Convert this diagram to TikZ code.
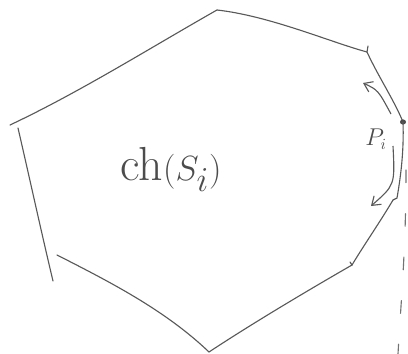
\documentclass[tikz,border=0pt]{standalone}
\usepackage{tikz}
\usetikzlibrary{arrows.meta}
\tikzset{
  hulledge/.style={draw=black!65, line width=0.8pt, line cap=round},
  hullgap/.style={draw=black!55, line width=0.8pt, line cap=round, dash pattern=on 9pt off 22pt},
  hullarrow/.style={{Straight Barb[length=2mm,width=2.8mm]}-, draw=black!65, line width=0.8pt},
  hulltext/.style={text=black!70, inner sep=0pt}
}
\begin{document}
\begin{tikzpicture}[x=0.025cm, y=-0.025cm]
  \useasboundingbox (0,0) rectangle (408,354);
  \coordinate (v1) at (10,125);
  \coordinate (v2) at (217,10);
  \coordinate (v3) at (367,52);
  \coordinate (v4) at (403,122);
  \coordinate (v5) at (397,198);
  \coordinate (v6) at (393,200);
  \coordinate (v7) at (352,265);
  \coordinate (v8) at (209,352);
  \coordinate (w1) at (57,255);
  \coordinate (u1) at (18,128);
  \coordinate (u2) at (53,281);

  \draw[hulledge] (v1) .. controls (80,92) and (150,48) .. (v2);
  \draw[hulledge] (v2) .. controls (270,16) and (330,42) .. (v3);
  \draw[hulledge] (v3) -- (368,46);
  \draw[hulledge] (v3) .. controls (378,76) and (394,100) .. (v4);
  \fill[black!70] (v4) ellipse (3 and 2.6);
  \draw[hulledge] (v4) .. controls (404,150) and (401,175) .. (v5) -- (v6);
  \draw[hulledge] (v6) .. controls (380,222) and (364,245) .. (v7) -- (350,262);
  \draw[hulledge] (v7) .. controls (300,295) and (250,325) .. (v8);
  \draw[hulledge] (w1) .. controls (110,282) and (165,310) .. (v8);
  \draw[hulledge] (u1) .. controls (30,180) and (42,235) .. (u2);
  \draw[hullgap] (406,170) .. controls (406,250) and (401,300) .. (398,354);

  \coordinate (a1) at (363,83);
  \coordinate (a2) at (391,114);
  \coordinate (a3) at (393,146);
  \coordinate (a4) at (371,206);
  \draw[hullarrow] (a1) .. controls (378,90) .. (a2);
  \draw[hullarrow] (a4) .. controls (395,185) .. (a3);

  \node[hulltext, font=\fontsize{34}{40}\selectfont, anchor=base] (hull) at (171,181) {ch$(S_i)$};
  \node[hulltext, font=\fontsize{16}{20}\selectfont] (pi) at (376,139) {$P_i$};
\end{tikzpicture}
\end{document}
